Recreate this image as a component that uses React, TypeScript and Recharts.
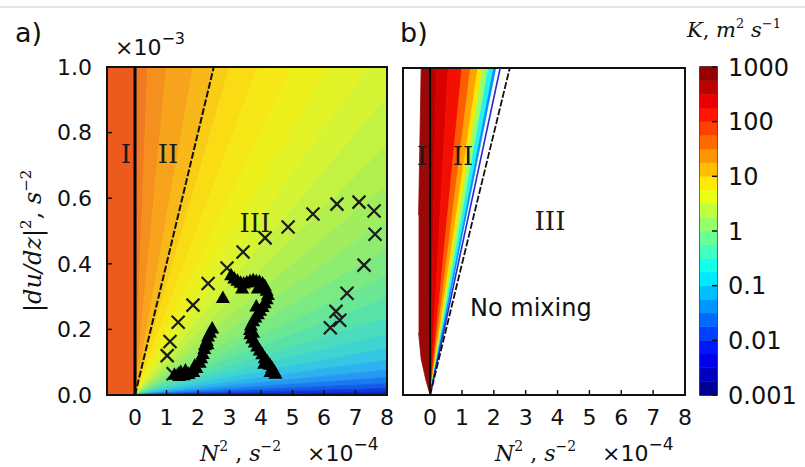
import React from 'react';
import {
  ComposedChart,
  Area,
  Scatter,
  XAxis,
  YAxis,
  ReferenceLine,
  ReferenceArea,
  BarChart,
  Bar,
} from 'recharts';

// axes
const xTicks = [0, 1, 2, 3, 4, 5, 6, 7, 8];
const yTicks = [0, 0.2, 0.4, 0.6, 0.8, 1.0];
const innerXTicks = [1, 2, 3, 4, 5, 6, 7];
const innerYTicks = [0.2, 0.4, 0.6, 0.8];
const X_MIN_A = -0.89;
const X_MIN_B = -0.85;
const X_MAX = 8;
const RI_CRIT = 2.5; // Ri = 0.25 line, meets top edge at N^2 = 2.5
const RI_BLUE_B = 2.2;

// contour bands are rays from the origin; edge = N^2 / S^2 ratio (plot units) where the ray meets the frame
const bandEdgesA = [0, 0.4, 1.0, 1.85, 2.5, 3.0, 3.9, 5.0, 6.2, 7.4, 8.8, 10.5, 12.5, 15, 18, 22, 27, 34, 43, 56, 75, 105, 150, 230, 400, 900, Infinity];
const bandColorsA = [
  '#f27a20', '#f5901e', '#f7a41c', '#f8b81a', '#f9cc16', '#fadc14', '#f6e816', '#eef01c',
  '#e2f428', '#d4f434', '#c4f242', '#b2f050', '#a0ee60', '#8eec70', '#7cea82', '#6ae694',
  '#58e2a8', '#4adcbc', '#3ed4d0', '#34c6e2', '#2cb2ee', '#2498f2', '#1c7af0', '#145ae8',
  '#0c3adc', '#0822c8',
];
const regionIColorA = '#ec5a1e';

const bandEdgesB = [0, 0.2, 0.57, 1.0, 1.27, 1.5, 1.65, 1.83, 2.0, 2.06];
const bandColorsB = ['#b80000', '#d80000', '#f41000', '#ff5c00', '#ffa400', '#ffe600', '#98ff68', '#28f0f0', '#0090ff'];
const regionIColorB = '#9a0808';
// region I in panel b: [x, low, high]
const regionIB = [
  [-0.36, 0.19, 0.55],
  [-0.28, 0.11, 1.0],
  [-0.13, 0.045, 1.0],
  [0, 0, 1.0],
];

// observations
const crosses = [
  { x: 1.21, y: 0.065 }, { x: 1.02, y: 0.12 }, { x: 1.11, y: 0.163 }, { x: 1.37, y: 0.222 },
  { x: 1.84, y: 0.274 }, { x: 2.32, y: 0.34 }, { x: 2.92, y: 0.387 }, { x: 3.43, y: 0.436 },
  { x: 4.13, y: 0.479 }, { x: 4.86, y: 0.512 }, { x: 5.65, y: 0.552 }, { x: 6.41, y: 0.582 },
  { x: 7.11, y: 0.588 }, { x: 7.59, y: 0.561 }, { x: 7.62, y: 0.49 }, { x: 7.27, y: 0.396 },
  { x: 6.73, y: 0.31 }, { x: 6.38, y: 0.255 }, { x: 6.5, y: 0.228 }, { x: 6.2, y: 0.205 },
];
const triangles = [
  { x: 1.25, y: 0.062 }, { x: 1.4, y: 0.058 }, { x: 1.55, y: 0.06 }, { x: 1.7, y: 0.064 },
  { x: 1.85, y: 0.07 }, { x: 1.95, y: 0.082 }, { x: 2.05, y: 0.098 }, { x: 2.1, y: 0.112 },
  { x: 2.15, y: 0.125 }, { x: 2.2, y: 0.14 }, { x: 2.22, y: 0.152 }, { x: 2.28, y: 0.165 },
  { x: 2.32, y: 0.178 }, { x: 2.38, y: 0.19 }, { x: 2.45, y: 0.203 }, { x: 1.6, y: 0.075 },
  { x: 1.9, y: 0.09 }, { x: 2.79, y: 0.296 },
  { x: 3.05, y: 0.365 }, { x: 3.15, y: 0.355 }, { x: 3.25, y: 0.348 }, { x: 3.35, y: 0.342 },
  { x: 3.45, y: 0.34 }, { x: 3.55, y: 0.343 }, { x: 3.65, y: 0.347 }, { x: 3.75, y: 0.35 },
  { x: 3.85, y: 0.347 }, { x: 3.95, y: 0.345 }, { x: 4.05, y: 0.34 }, { x: 4.12, y: 0.332 },
  { x: 4.18, y: 0.318 }, { x: 4.22, y: 0.305 }, { x: 4.18, y: 0.292 }, { x: 4.12, y: 0.28 },
  { x: 4.05, y: 0.268 }, { x: 3.97, y: 0.257 }, { x: 3.9, y: 0.246 }, { x: 3.82, y: 0.236 },
  { x: 3.75, y: 0.225 }, { x: 3.68, y: 0.212 }, { x: 3.65, y: 0.198 }, { x: 3.66, y: 0.185 },
  { x: 3.72, y: 0.172 }, { x: 3.8, y: 0.16 }, { x: 3.88, y: 0.148 }, { x: 3.96, y: 0.136 },
  { x: 4.04, y: 0.124 }, { x: 4.12, y: 0.112 }, { x: 4.2, y: 0.102 }, { x: 4.28, y: 0.092 },
  { x: 4.35, y: 0.082 }, { x: 4.42, y: 0.072 }, { x: 4.46, y: 0.065 },
  { x: 3.4, y: 0.325 }, { x: 3.9, y: 0.325 }, { x: 3.85, y: 0.27 }, { x: 3.75, y: 0.19 },
  { x: 4.1, y: 0.095 }, { x: 4.3, y: 0.07 }, { x: 1.45, y: 0.07 }, { x: 2.3, y: 0.155 },
];

// colorbar: log10(K) from -3 to 3, 4 levels per decade (bottom to top)
const cbLabels = ['0.001', '0.01', '0.1', '1', '10', '100', '1000'];
const cbTicks = [0, 1, 2, 3, 4, 5, 6];
const cbColors = [
  '#000095', '#0000bf', '#0000ea', '#0015ff', '#0040ff', '#006aff', '#0095ff', '#00bfff',
  '#00eaff', '#15ffea', '#40ffbf', '#6aff95', '#95ff6a', '#bfff40', '#eaff15', '#ffea00',
  '#ffbf00', '#ff9500', '#ff6a00', '#ff4000', '#ff1500', '#ea0000', '#bf0000', '#950000',
];
const cbStep = 0.25;

const wedge = (x: number, r1: number, r2: number) => {
  if (x < 0) return null;
  const high = r1 === 0 ? 1 : Math.min(x / r1, 1);
  const low = r2 === Infinity ? 0 : Math.min(x / r2, 1);
  return [low, high];
};

const makeRows = (xMin: number, edges: number[], extra: number[]) => {
  const xs = [xMin, 0, X_MAX, ...extra, ...edges.filter((e) => e > 0 && e < X_MAX)];
  return Array.from(new Set(xs)).sort((a, b) => a - b).map((x) => ({ x }));
};

const rowsA = makeRows(X_MIN_A, bandEdgesA, []);
const rowsB = makeRows(X_MIN_B, bandEdgesB, regionIB.map((p) => p[0]));

const tickStyle = { fontSize: 22, fill: '#111', fontFamily: 'DejaVu Sans' };
const tickLine = { stroke: '#111', strokeWidth: 1.5 };

const CrossMark = (props: any) => {
  const { cx, cy } = props;
  const s = 6.5;
  return (
    <path
      d={`M${cx - s},${cy - s}L${cx + s},${cy + s}M${cx - s},${cy + s}L${cx + s},${cy - s}`}
      stroke="#1c1c1c"
      strokeWidth={2.2}
      fill="none"
    />
  );
};

const TriMark = (props: any) => {
  const { cx, cy } = props;
  return <path d={`M${cx},${cy - 7.5}L${cx + 7},${cy + 5}L${cx - 7},${cy + 5}Z`} fill="#000" />;
};

const bandAreas = (edges: number[], colors: string[], prefix: string) =>
  colors.map((c, i) => (
    <Area
      key={`${prefix}-${i}`}
      type="linear"
      dataKey={(row: any) => wedge(row.x, edges[i], edges[i + 1])}
      fill={c}
      fillOpacity={1}
      stroke={c}
      strokeWidth={0.8}
      dot={false}
      activeDot={false}
      isAnimationActive={false}
    />
  ));

function frameAxes(xMin: number, showYLabels: boolean) {
  return [
    <XAxis
      key="xb"
      dataKey="x"
      type="number"
      domain={[xMin, X_MAX]}
      ticks={xTicks}
      allowDataOverflow
      height={30}
      axisLine={false}
      tickSize={-5}
      tickMargin={19}
      tick={tickStyle}
      tickLine={tickLine}
    />,
    <XAxis
      key="xt"
      xAxisId="t"
      orientation="top"
      type="number"
      domain={[xMin, X_MAX]}
      ticks={innerXTicks}
      allowDataOverflow
      height={1}
      axisLine={false}
      tickSize={-5}
      tick={false}
      tickLine={tickLine}
    />,
    <YAxis
      key="yl"
      type="number"
      domain={[0, 1]}
      ticks={showYLabels ? yTicks : innerYTicks}
      allowDataOverflow
      width={showYLabels ? 60 : 1}
      axisLine={false}
      tickSize={-5}
      tickMargin={20}
      tick={showYLabels ? tickStyle : false}
      tickFormatter={(v: number) => v.toFixed(1)}
      tickLine={tickLine}
    />,
    <YAxis
      key="yr"
      yAxisId="r"
      orientation="right"
      type="number"
      domain={[0, 1]}
      ticks={innerYTicks}
      width={1}
      axisLine={false}
      tickSize={-5}
      tick={false}
      tickLine={tickLine}
    />,
  ];
}

function PanelA() {
  return (
    <ComposedChart width={400} height={467} data={rowsA} margin={{ top: 66, right: 12, bottom: 42, left: 47 }}>
      <Area
        type="linear"
        dataKey={(row: any) => (row.x <= 0 ? [0, 1] : null)}
        fill={regionIColorA}
        fillOpacity={1}
        stroke={regionIColorA}
        strokeWidth={0.8}
        dot={false}
        activeDot={false}
        isAnimationActive={false}
      />
      {bandAreas(bandEdgesA, bandColorsA, 'a')}
      {frameAxes(X_MIN_A, true)}
      <ReferenceLine x={0} stroke="#000" strokeWidth={3} />
      <ReferenceLine
        segment={[{ x: 0, y: 0 }, { x: RI_CRIT, y: 1 }]}
        stroke="#111"
        strokeWidth={2}
        strokeDasharray="7 2"
      />
      <Scatter data={crosses} dataKey="y" shape={CrossMark} isAnimationActive={false} />
      <Scatter data={triangles} dataKey="y" shape={TriMark} isAnimationActive={false} />
      <ReferenceArea y1={0} y2={1} fill="none" stroke="#111" strokeWidth={2} ifOverflow="visible" />
    </ComposedChart>
  );
}

function PanelB() {
  return (
    <ComposedChart width={310} height={467} data={rowsB} margin={{ top: 67, right: 14, bottom: 42, left: 12 }}>
      <Area
        type="linear"
        dataKey={(row: any) => {
          const p = regionIB.find((q) => q[0] === row.x);
          return p ? [p[1], p[2]] : null;
        }}
        fill={regionIColorB}
        fillOpacity={1}
        stroke={regionIColorB}
        strokeWidth={0.8}
        dot={false}
        activeDot={false}
        isAnimationActive={false}
      />
      {bandAreas(bandEdgesB, bandColorsB, 'b')}
      {frameAxes(X_MIN_B, false)}
      <ReferenceLine x={0} stroke="#000" strokeWidth={2} />
      <ReferenceLine segment={[{ x: 0, y: 0 }, { x: RI_BLUE_B, y: 1 }]} stroke="#2a2ad0" strokeWidth={1.6} />
      <ReferenceLine
        segment={[{ x: 0, y: 0 }, { x: RI_CRIT, y: 1 }]}
        stroke="#111"
        strokeWidth={1.8}
        strokeDasharray="7 2"
      />
      <ReferenceArea y1={0} y2={1} fill="none" stroke="#111" strokeWidth={2} ifOverflow="visible" />
    </ComposedChart>
  );
}

function ColorBar() {
  const row: any = { name: 'K' };
  cbColors.forEach((_, i) => (row[`s${i}`] = cbStep));
  return (
    <BarChart width={115} height={467} data={[row]} margin={{ top: 67, right: 0, bottom: 72, left: 10 }} barCategoryGap={0}>
      <XAxis dataKey="name" hide />
      <YAxis
        orientation="right"
        type="number"
        domain={[0, 6]}
        ticks={cbTicks}
        width={88}
        axisLine={false}
        tickSize={-5}
        tickMargin={16}
        tick={{ fontSize: 24, fill: '#111', fontFamily: 'DejaVu Sans' }}
        tickFormatter={(v: number) => cbLabels[v]}
        tickLine={tickLine}
      />
      {cbColors.map((c, i) => (
        <Bar key={i} dataKey={`s${i}`} stackId="cb" fill={c} stroke={c} strokeWidth={0.5} isAnimationActive={false} />
      ))}
      <ReferenceArea y1={0} y2={6} fill="none" stroke="#111" strokeWidth={1.5} ifOverflow="visible" />
    </BarChart>
  );
}

const serif = 'DejaVu Serif';

function XTitle({ x }: { x: number }) {
  return (
    <text x={x} y={461} fontSize={22} fill="#111" fontFamily={serif}>
      <tspan fontStyle="italic">N</tspan>
      <tspan dy={-10} fontSize={14}>2</tspan>
      <tspan dy={10}> , </tspan>
      <tspan fontStyle="italic">s</tspan>
      <tspan dy={-10} fontSize={14}>−2</tspan>
      <tspan dy={10} x={x + 107} fontFamily="DejaVu Sans">×10</tspan>
      <tspan dy={-11} fontSize={17} fontFamily="DejaVu Sans">−4</tspan>
    </text>
  );
}

export default function App() {
  return (
    <div style={{ position: 'absolute', left: 0, top: 0, width: 805, height: 467, background: '#fff', overflow: 'hidden' }}>
      <div style={{ position: 'absolute', left: 0, top: 6, width: 805, borderTop: '2px solid #e4e4e4' }} />
      <div style={{ position: 'absolute', left: 0, top: 0 }}>
        <PanelA />
      </div>
      <div style={{ position: 'absolute', left: 390, top: 0 }}>
        <PanelB />
      </div>
      <div style={{ position: 'absolute', left: 690, top: 0 }}>
        <ColorBar />
      </div>
      <svg width={805} height={467} style={{ position: 'absolute', left: 0, top: 0, pointerEvents: 'none' }}>
        <text x={15} y={42} fontSize={27} fill="#111" fontFamily="DejaVu Sans">a)</text>
        <text x={400} y={42} fontSize={27} fill="#111" fontFamily="DejaVu Sans">b)</text>
        <text x={115} y={55} fontSize={22} fill="#111" fontFamily="DejaVu Sans">
          ×10<tspan dy={-11} fontSize={16}>−3</tspan>
        </text>
        <g fontFamily={serif} fontSize={26} fill="#1a1a1a" textAnchor="middle">
          <text x={126} y={163}>I</text>
          <text x={168} y={163}>II</text>
          <text x={255} y={232}>III</text>
          <text x={422} y={165}>I</text>
          <text x={463} y={165}>II</text>
          <text x={550} y={230}>III</text>
        </g>
        <text x={470} y={316} fontSize={24} fill="#111" fontFamily="DejaVu Sans">No mixing</text>
        <XTitle x={200} />
        <XTitle x={495} />
        <text transform="translate(41,312) rotate(-90)" fontSize={24} fill="#111" fontFamily={serif}>
          <tspan fontStyle="italic">|du/dz|</tspan>
          <tspan dy={-10} fontSize={15}>2</tspan>
          <tspan dy={10}>, </tspan>
          <tspan fontStyle="italic">s</tspan>
          <tspan dy={-10} fontSize={15}>−2</tspan>
        </text>
        <text x={687} y={37} fontSize={21} fill="#111" fontFamily={serif}>
          <tspan fontStyle="italic">K</tspan>
          <tspan>, </tspan>
          <tspan fontStyle="italic">m</tspan>
          <tspan dy={-9} fontSize={13}>2</tspan>
          <tspan dy={9}> </tspan>
          <tspan fontStyle="italic">s</tspan>
          <tspan dy={-9} fontSize={13}>−1</tspan>
        </text>
      </svg>
    </div>
  );
}
